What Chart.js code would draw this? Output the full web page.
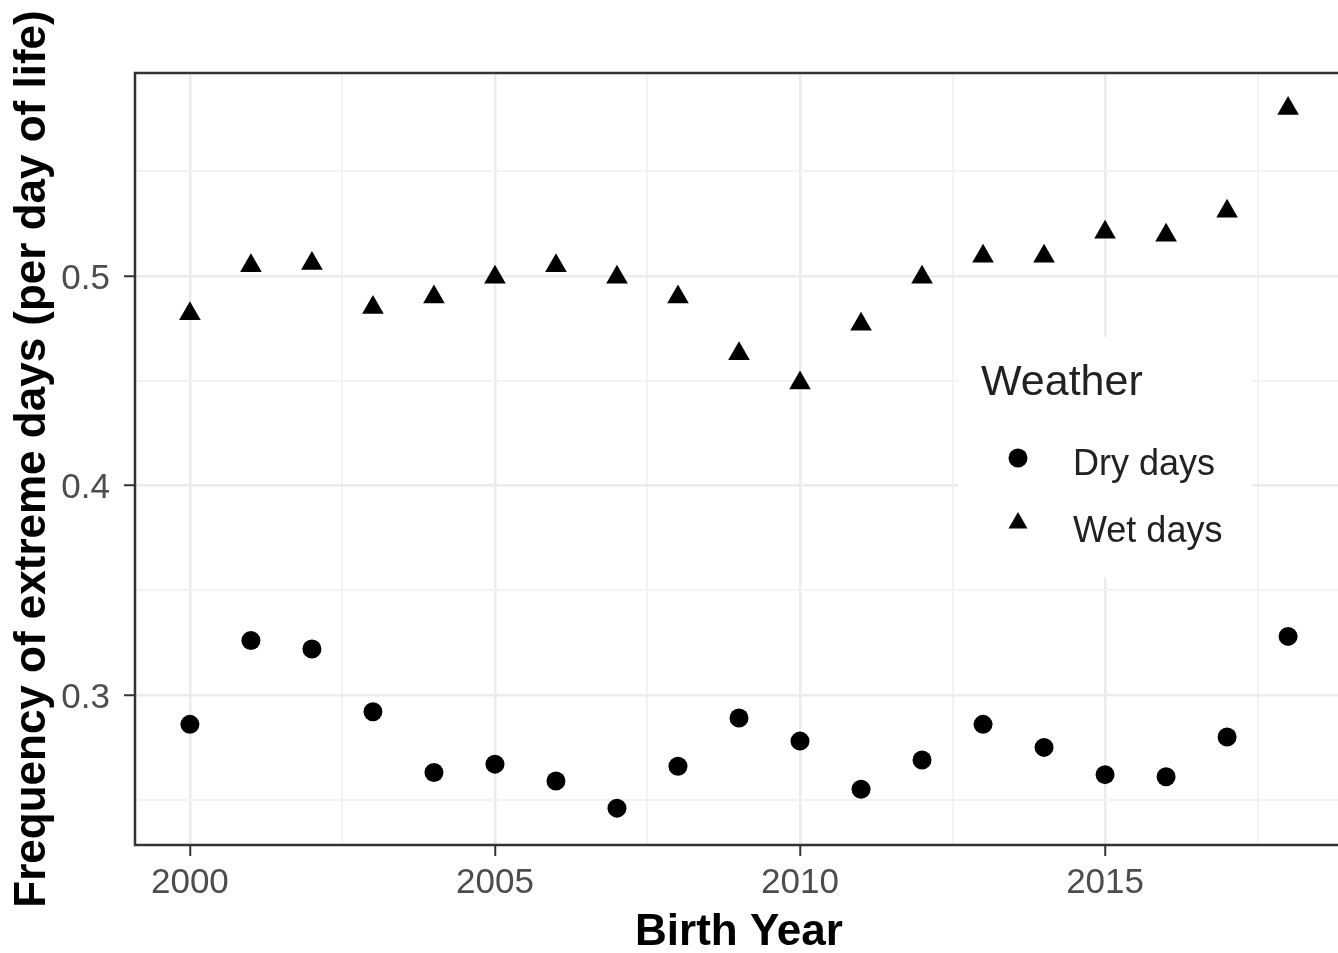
<!DOCTYPE html>
<html>
<head>
<meta charset="utf-8">
<script src="https://cdn.jsdelivr.net/npm/chart.js@4"></script>
<style>
  html, body { margin: 0; padding: 0; background: #fff; overflow: hidden; }
  #wrap { width: 1350px; height: 953px; }
</style>
</head>
<body>
<div id="wrap"><canvas id="myChart" width="1350" height="953"></canvas></div>
<script>
const years = [2000, 2001, 2002, 2003, 2004, 2005, 2006, 2007, 2008, 2009,
               2010, 2011, 2012, 2013, 2014, 2015, 2016, 2017, 2018];
const dryDays = [0.286, 0.326, 0.322, 0.292, 0.263, 0.267, 0.259, 0.246, 0.266, 0.289,
                 0.278, 0.255, 0.269, 0.286, 0.275, 0.262, 0.261, 0.280, 0.328];
const wetDays = [0.482, 0.505, 0.506, 0.485, 0.490, 0.4995, 0.505, 0.4995, 0.490, 0.463,
                 0.449, 0.477, 0.4995, 0.5095, 0.5095, 0.521, 0.5195, 0.531, 0.580];
const seriesNames = ['Dry days', 'Wet days'];
const legendTitle = 'Weather';
const xMajorTicks = [2000, 2005, 2010, 2015];
const xMinorTicks = [2002.5, 2007.5, 2012.5, 2017.5];
const yMajorTicks = [0.3, 0.4, 0.5];
const yMinorTicks = [0.25, 0.35, 0.45, 0.55];

const FONT = "'Liberation Sans', Arial, sans-serif";

function tickList(major, minor) {
    return major.concat(minor).sort((a, b) => a - b).map(v => ({value: v}));
}
function isMajor(list, v) {
    return list.some(m => Math.abs(m - v) < 1e-9);
}

// ggplot-ish panel border + inset legend
const panelExtras = {
    id: 'panelExtras',
    afterDraw(chart) {
        const c = chart.ctx;
        const a = chart.chartArea;
        c.save();
        // legend box
        c.fillStyle = '#fff';
        c.fillRect(958, 337, 294, 240);
        c.fillStyle = '#222';
        c.textBaseline = 'alphabetic';
        c.textAlign = 'left';
        c.font = '43px ' + FONT;
        c.fillText(legendTitle, 981, 395);
        c.font = '36px ' + FONT;
        const rows = [475, 542];
        const centers = [458, 523];
        chart.data.datasets.forEach((ds, i) => {
            c.fillStyle = '#000';
            Chart.helpers.drawPoint(c, {
                pointStyle: ds.pointStyle,
                radius: i === 0 ? 9.5 : 11,
                rotation: 0,
                borderWidth: 0
            }, 1018, centers[i]);
            c.fillStyle = '#222';
            c.fillText(ds.label, 1073, rows[i]);
        });
        // panel border
        c.strokeStyle = '#333';
        c.lineWidth = 2.5;
        c.strokeRect(a.left, a.top, a.right - a.left, a.bottom - a.top);
        c.restore();
    }
};

new Chart(document.getElementById('myChart'), {
    type: 'scatter',
    data: {
        datasets: [
            {
                label: seriesNames[0],
                data: years.map((yr, i) => ({x: yr, y: dryDays[i]})),
                pointStyle: 'circle',
                pointRadius: 9.5,
                pointHoverRadius: 9.5,
                backgroundColor: '#000',
                borderWidth: 0
            },
            {
                label: seriesNames[1],
                data: years.map((yr, i) => ({x: yr, y: wetDays[i]})),
                pointStyle: 'triangle',
                pointRadius: 12.5,
                pointHoverRadius: 12.5,
                backgroundColor: '#000',
                borderWidth: 0
            }
        ]
    },
    options: {
        responsive: false,
        animation: false,
        devicePixelRatio: 1,
        layout: { autoPadding: false, padding: { left: 0, top: 73, right: 7, bottom: 0 } },
        plugins: {
            legend: { display: false },
            tooltip: { enabled: false }
        },
        scales: {
            x: {
                type: 'linear',
                position: 'bottom',
                min: 1999.1,
                max: 2018.9,
                afterBuildTicks: s => { s.ticks = tickList(xMajorTicks, xMinorTicks); },
                afterFit: s => { s.height = 108; },
                border: { display: false },
                grid: {
                    color: c => isMajor(xMajorTicks, c.tick.value) ? '#ebebeb' : '#f3f3f3',
                    lineWidth: c => isMajor(xMajorTicks, c.tick.value) ? 2.5 : 2,
                    tickColor: c => isMajor(xMajorTicks, c.tick.value) ? '#333' : 'rgba(0,0,0,0)',
                    tickLength: 11,
                    tickWidth: 2
                },
                ticks: {
                    autoSkip: false,
                    maxRotation: 0,
                    padding: 10,
                    color: '#4d4d4d',
                    font: { family: FONT, size: 35, lineHeight: 1 },
                    callback: v => isMajor(xMajorTicks, v) ? String(v) : ''
                },
                title: {
                    display: true,
                    text: 'Birth Year',
                    color: '#000',
                    padding: 0,
                    font: { family: FONT, size: 44, weight: 'bold', lineHeight: 0.9 }
                }
            },
            y: {
                type: 'linear',
                min: 0.2284,
                max: 0.597,
                afterBuildTicks: s => { s.ticks = tickList(yMajorTicks, yMinorTicks); },
                afterFit: s => { s.width = 135; },
                border: { display: false },
                grid: {
                    color: c => isMajor(yMajorTicks, c.tick.value) ? '#ebebeb' : '#f3f3f3',
                    lineWidth: c => isMajor(yMajorTicks, c.tick.value) ? 2.5 : 2,
                    tickColor: c => isMajor(yMajorTicks, c.tick.value) ? '#333' : 'rgba(0,0,0,0)',
                    tickLength: 11,
                    tickWidth: 2
                },
                ticks: {
                    autoSkip: false,
                    padding: 14,
                    labelOffset: 3,
                    color: '#4d4d4d',
                    font: { family: FONT, size: 35, lineHeight: 1 },
                    callback: v => isMajor(yMajorTicks, v) ? v.toFixed(1) : ''
                },
                title: {
                    display: true,
                    text: 'Frequency of extreme days (per day of life)',
                    color: '#000',
                    padding: { top: 6, bottom: 0 },
                    font: { family: FONT, size: 44, weight: 'bold', lineHeight: 1.2 }
                }
            }
        }
    },
    plugins: [panelExtras]
});
</script>
</body>
</html>
